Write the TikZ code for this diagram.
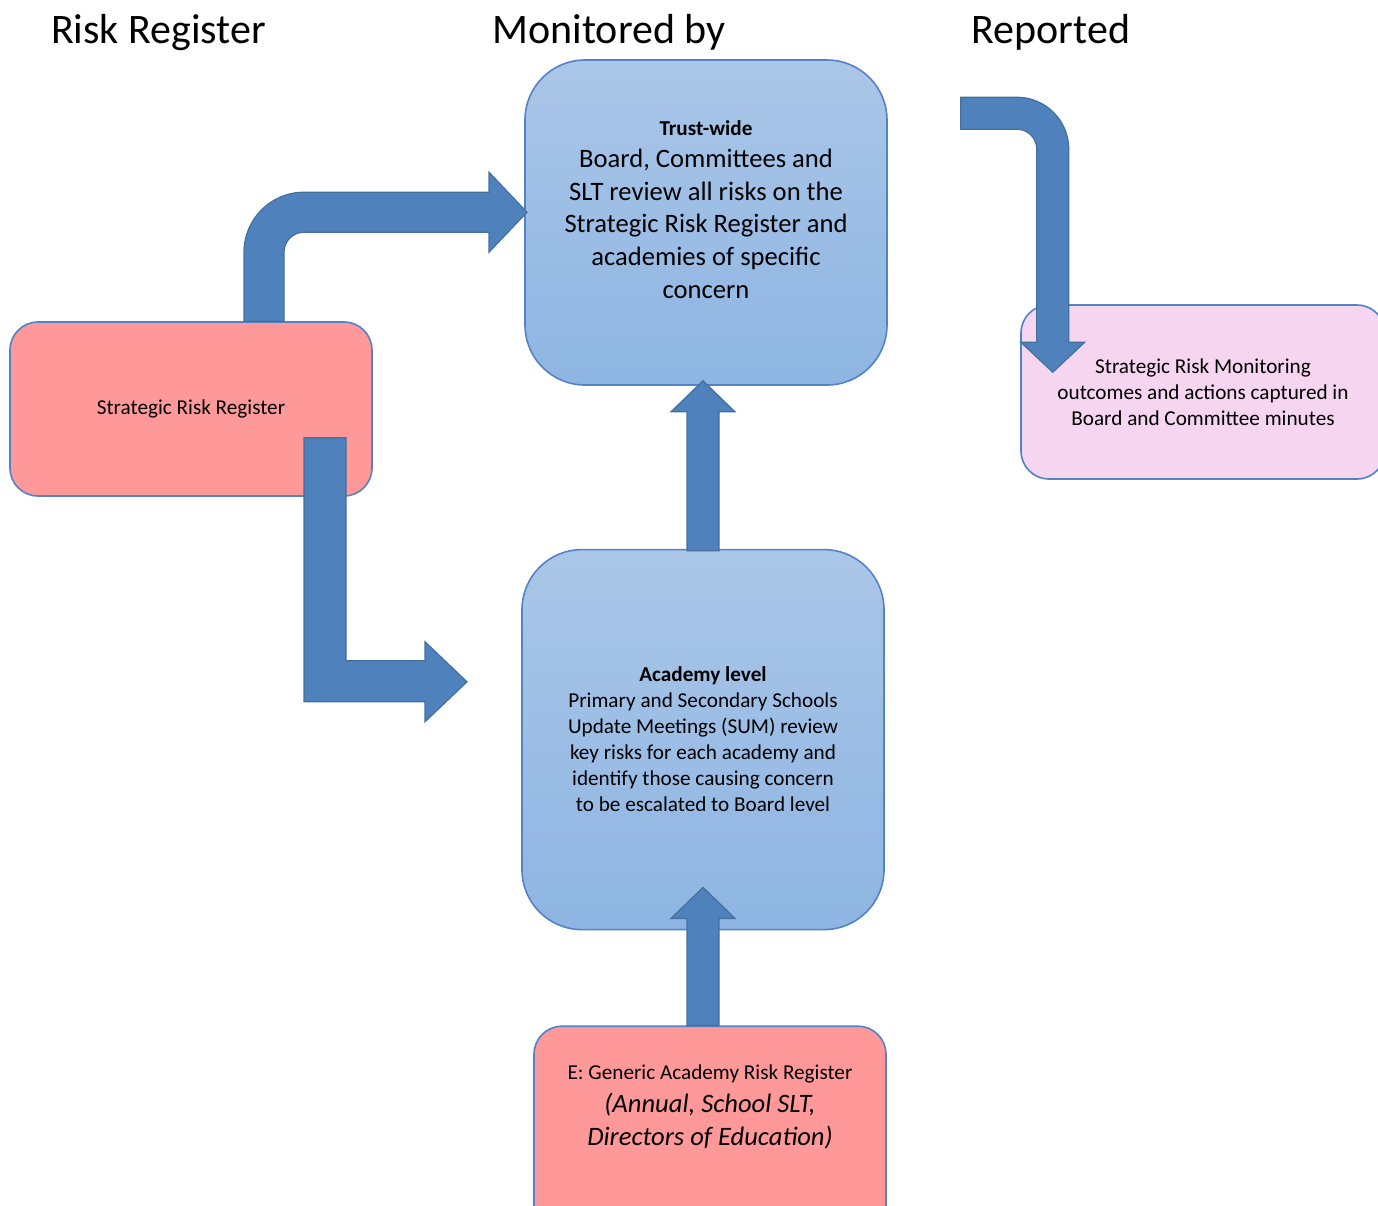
\documentclass[tikz,border=0pt]{standalone}
\usepackage{fontspec}
\setmainfont{Carlito}
\usetikzlibrary{positioning, calc}
\definecolor{boxedge}{RGB}{84,130,196}
\definecolor{bluetop}{RGB}{170,198,232}
\definecolor{bluebottom}{RGB}{142,181,226}
\definecolor{regred}{RGB}{255,153,153}
\definecolor{reportpink}{RGB}{245,213,240}
\definecolor{arrowfill}{RGB}{79,129,189}
\definecolor{arrowedge}{RGB}{65,113,156}
\newcommand{\fsmall}{\fontsize{10.6}{13}\selectfont}
\newcommand{\fbig}{\fontsize{13.3}{16.3}\selectfont}
\newcommand{\fhead}{\fontsize{21}{25}\selectfont}
\tikzset{
x=0.5pt, y=0.5pt, % one unit is one pixel of the layout
every node/.style={inner sep=0pt, align=center},
box/.style={draw=boxedge, line width=0.8pt, font=\fsmall}, % outline shared by all boxes
bluebox/.style={box, top color=bluetop, bottom color=bluebottom, rounded corners=30pt},
redbox/.style={box, fill=regred, rounded corners=14pt},
pinkbox/.style={box, fill=reportpink, rounded corners=14pt},
heading/.style={font=\fhead, anchor=base}, % column titles
blockarrow/.style={fill=arrowfill, draw=arrowedge, line width=0.6pt}, % wide filled arrows
}
\begin{document}
\begin{tikzpicture}
\useasboundingbox (0,0) rectangle (1378,-1206);
\node[heading] (hrisk) at (158.5,-43) {Risk Register};
\node[heading] (hmon) at (609,-43) {Monitored by};
\node[heading] (hrep) at (1051,-43) {Reported};

\node[bluebox, font=\fbig, minimum width=181pt, minimum height=162.5pt] (trust) at (706,-222.5)
    {{\fsmall\bfseries Trust-wide}\\ Board, Committees and\\ SLT review all risks on the\\
     Strategic Risk Register and\\ academies of specific\\ concern\rule[-13.25pt]{0pt}{13.25pt}};
\node[bluebox, minimum width=181pt, minimum height=190pt, below=81.5pt of trust, xshift=-1.5pt] (acad)
    {{\bfseries Academy level}\\ Primary and Secondary Schools\\ Update Meetings (SUM) review\\
     key risks for each academy and\\ identify those causing concern\\ to be escalated to Board level};
\node[redbox, font=\fbig\itshape, minimum width=176pt, minimum height=107pt, below=47.5pt of acad, xshift=3.5pt] (generic)
    {{\fsmall\upshape E: Generic Academy Risk Register}\\ (Annual, School SLT,\\
     Directors of Education)\rule[-28pt]{0pt}{28pt}};
\node[redbox, minimum width=181pt, minimum height=87pt] (srr) at (191,-409) {Strategic Risk Register};
\node[pinkbox, minimum width=182pt, minimum height=87pt] (minutes) at (1203,-392)
    {Strategic Risk Monitoring\\ outcomes and actions captured in\\ Board and Committee minutes};

\draw[blockarrow] (srr.north) ++(53,0) -- ++(0,69) arc[start angle=180, end angle=90, radius=60]
    -- ++(185,0) -- ++(0,20) -- ++(38,-40) -- ++(-38,-40) -- ++(0,20) -- ++(-185,0)
    arc[start angle=90, end angle=180, radius=20] -- ++(0,-69) -- cycle;
\draw[blockarrow] (srr.south) ++(113,59) -- ++(42,0) -- ++(0,-223) -- ++(79,0) -- ++(0,19)
    -- ++(42,-40) -- ++(-42,-40) -- ++(0,20) -- ++(-121,0) -- cycle;
\draw[blockarrow] (acad.north) ++(-16,-2) -- ++(0,139) -- ++(-16,0) -- ++(32,31) -- ++(32,-31)
    -- ++(-16,0) -- ++(0,-139) -- cycle;
\draw[blockarrow] (generic.north -| acad.south) ++(-16,0) -- ++(0,107) -- ++(-16,0) -- ++(32,31)
    -- ++(32,-31) -- ++(-16,0) -- ++(0,-107) -- cycle;
\draw[blockarrow] (trust.north east) ++(73,-38) -- ++(56,0) arc[start angle=90, end angle=0, radius=52]
    -- ++(0,-193) -- ++(16,0) -- ++(-32,-30) -- ++(-32,30) -- ++(16,0) -- ++(0,193)
    arc[start angle=0, end angle=90, radius=20] -- ++(-56,0) -- cycle;
\end{tikzpicture}
\end{document}
